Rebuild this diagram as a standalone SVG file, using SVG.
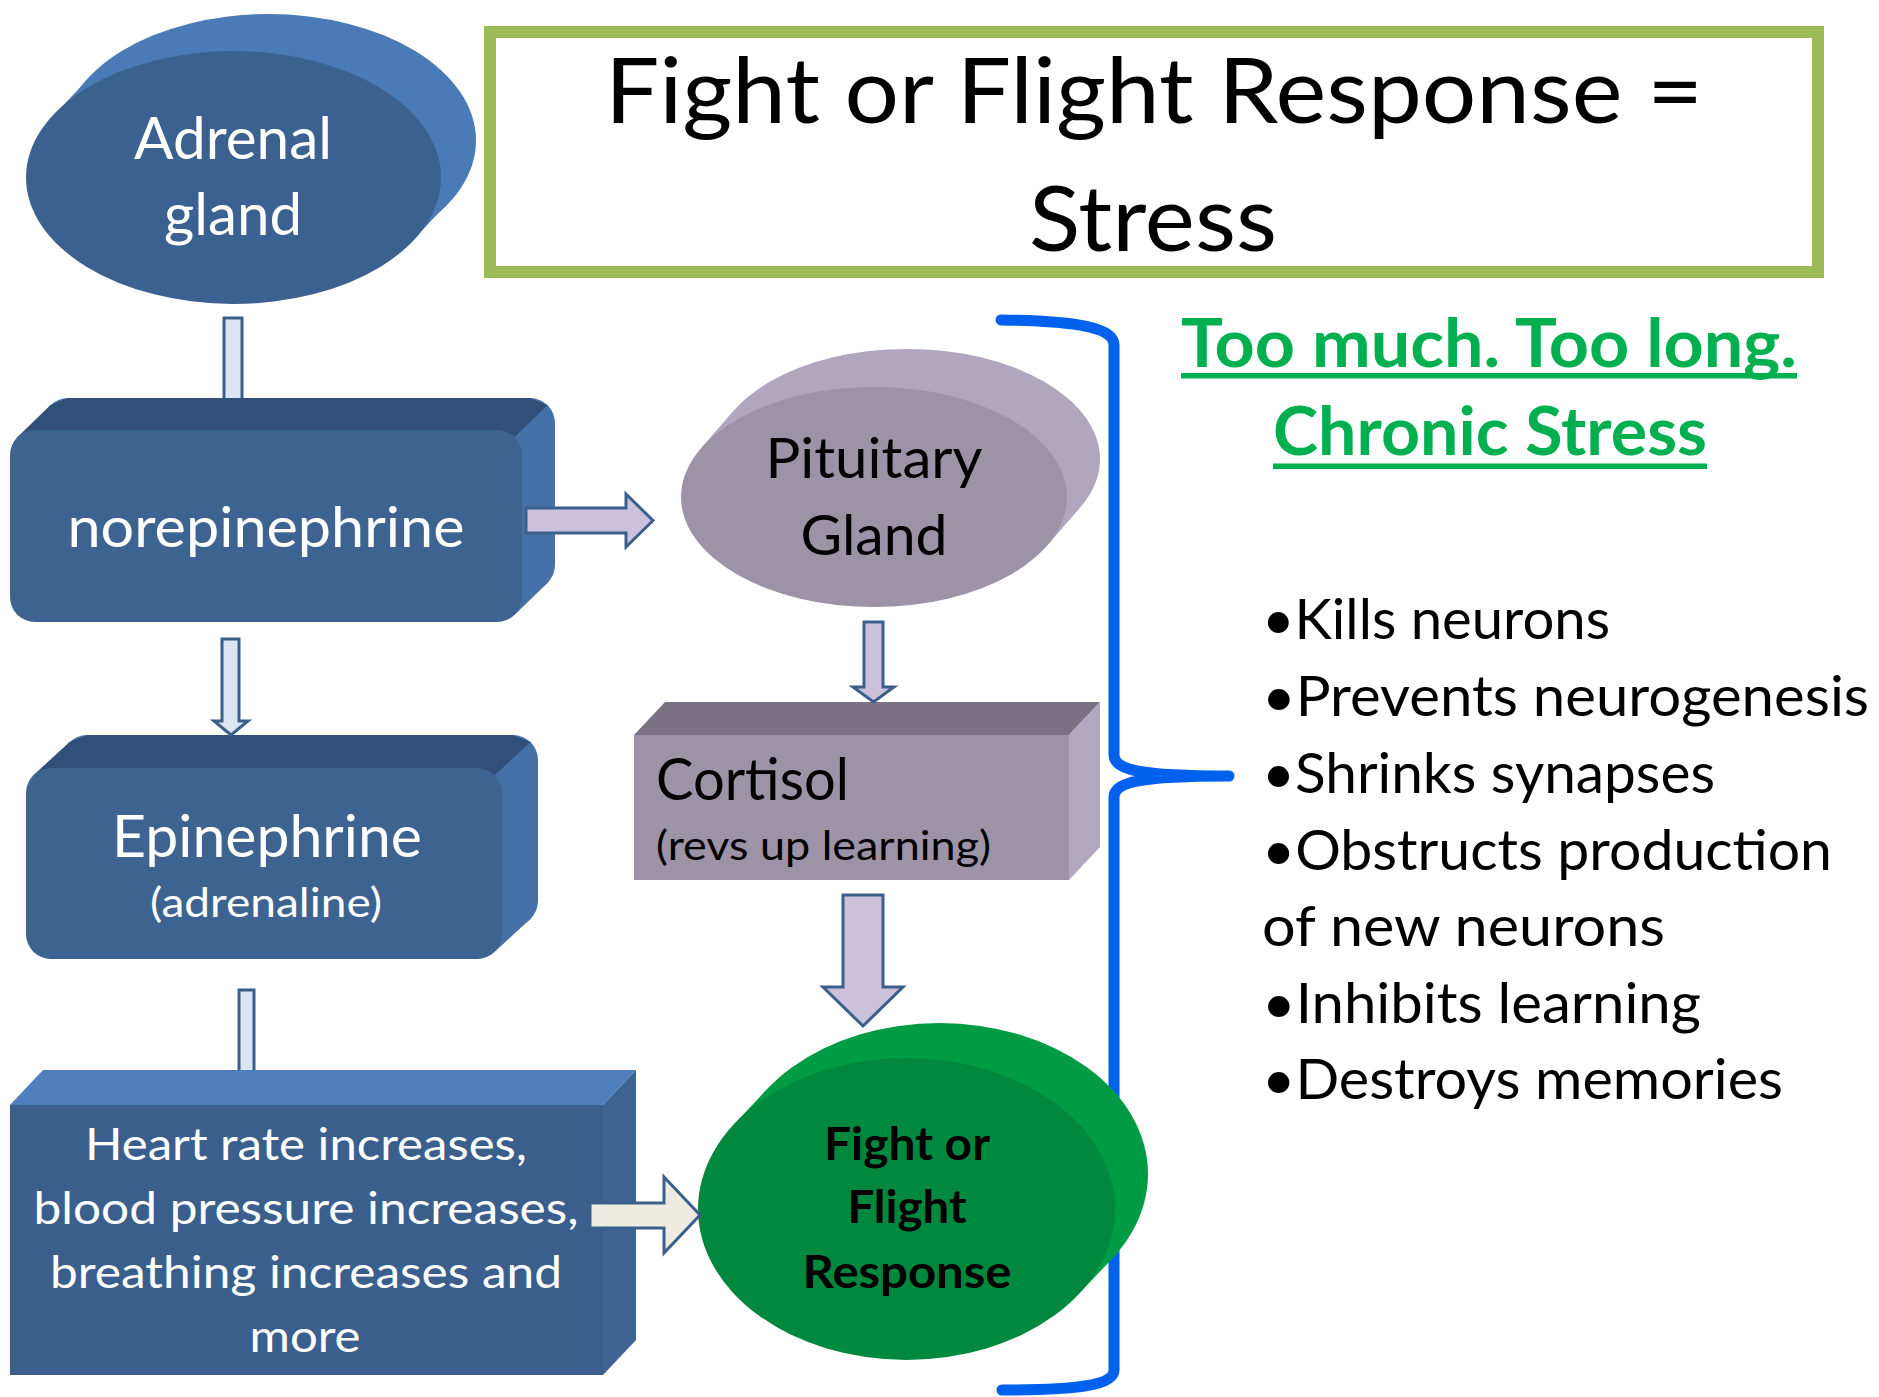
<svg xmlns="http://www.w3.org/2000/svg" width="1879" height="1397" viewBox="0 0 1879 1397">
<style>
text{font-family:Lato,"Open Sans","Liberation Sans",sans-serif}
.w{fill:#ffffff}
.k{fill:#000000}
.m{text-anchor:middle}
.b{font-weight:bold}
.g{fill:#00B050}
.bl-side{fill:#4A7BB6}
.bl-front{fill:#3B6190}
.bl-top{fill:#30507A}
.bl-right{fill:#4671A8}
.pu-side{fill:#B0A6BE}
.pu-front{fill:#9D93A7}
.arrB{fill:#DCE6F2;stroke:#3A5F8B;stroke-width:3}
.arrP{fill:#CCC1DA;stroke:#3A5F8B;stroke-width:3}
.arrC{fill:#EEECE1;stroke:#3A5F8B;stroke-width:3}
</style>
<rect x="0" y="0" width="1879" height="1397" fill="#ffffff"/>

<g id="title">
<rect x="490" y="32" width="1328" height="240" fill="#ffffff" stroke="#9BBB59" stroke-width="12"/>
<text class="k m" x="1154" y="123" font-size="92" textLength="1098" lengthAdjust="spacingAndGlyphs">Fight or Flight Response =</text>
<text class="k m" x="1153" y="251" font-size="92" textLength="248" lengthAdjust="spacingAndGlyphs">Stress</text>
</g>

<g id="brace">
<path d="M1001,320 C1080,321 1114,328 1114,345 L1114,755 C1114,770 1140,776 1229,776 C1140,776 1114,782 1114,797 L1114,1370 C1114,1385 1080,1390 1002,1390" fill="none" stroke="#0061EF" stroke-width="11" stroke-linecap="round" stroke-linejoin="round"/>
</g>

<g id="adrenal">
<ellipse class="bl-side" cx="268.5" cy="140.5" rx="207.5" ry="126.5"/>
<polygon class="bl-side" points="54.5,114.5 89.5,77.5 447.5,203.5 412.5,240.5"/>
<ellipse class="bl-front" cx="233.5" cy="177.5" rx="207.5" ry="126.5"/>
<text class="w m" x="233" y="159" font-size="58" textLength="198" lengthAdjust="spacingAndGlyphs">Adrenal</text>
<text class="w m" x="233" y="235" font-size="58" textLength="138" lengthAdjust="spacingAndGlyphs">gland</text>
</g>

<g id="norepinephrine">
<rect class="bl-right" x="43" y="398" width="512" height="192" rx="25"/>
<polygon class="bl-top" points="17.3,437.3 50.3,405.3 68,398 530,398 547.7,405.3 514.7,437.3"/>
<polygon class="bl-right" points="514.7,437.3 547.7,405.3 555,423 555,565 547.7,582.7 514.7,614.7"/>
<rect x="10" y="430" width="512" height="192" rx="25" fill="#3D6391"/>
<text class="w m" x="266" y="547" font-size="57" textLength="397" lengthAdjust="spacingAndGlyphs">norepinephrine</text>
</g>

<g id="epinephrine">
<rect class="bl-right" x="62" y="735" width="476" height="191" rx="25"/>
<polygon class="bl-top" points="33.3,775.3 69.3,742.3 87,735 513,735 530.7,742.3 494.7,775.3"/>
<polygon class="bl-right" points="494.7,775.3 530.7,742.3 538,760 538,901 530.7,918.7 494.7,951.7"/>
<rect x="26" y="768" width="476" height="191" rx="25" fill="#3D6391"/>
<text class="w m" x="267" y="857" font-size="58" textLength="310" lengthAdjust="spacingAndGlyphs">Epinephrine</text>
<text class="w m" x="266" y="917" font-size="40" textLength="232" lengthAdjust="spacingAndGlyphs">(adrenaline)</text>
</g>

<g id="heart-rate">
<polygon points="10,1105 43,1070 636,1070 603,1105" fill="#4F7FBA"/>
<polygon points="603,1105 636,1070 636,1340 603,1375" fill="#3E6494"/>
<rect x="10" y="1105" width="593" height="270" fill="#3B5F8C"/>
<text class="w m" x="306" y="1160" font-size="45" textLength="442" lengthAdjust="spacingAndGlyphs">Heart rate increases,</text>
<text class="w m" x="306" y="1224" font-size="45" textLength="545" lengthAdjust="spacingAndGlyphs">blood pressure increases,</text>
<text class="w m" x="306" y="1288" font-size="45" textLength="512" lengthAdjust="spacingAndGlyphs">breathing increases and</text>
<text class="w m" x="305" y="1352" font-size="45" textLength="111" lengthAdjust="spacingAndGlyphs">more</text>
</g>

<g id="pituitary">
<ellipse class="pu-side" cx="907" cy="459" rx="193" ry="110"/>
<polygon class="pu-side" points="701,448.3 734,410.3 1080,507.7 1047,545.7"/>
<ellipse class="pu-front" cx="874" cy="497" rx="193" ry="110"/>
<text class="k m" x="874" y="478" font-size="56" textLength="217" lengthAdjust="spacingAndGlyphs">Pituitary</text>
<text class="k m" x="874" y="555" font-size="56" textLength="147" lengthAdjust="spacingAndGlyphs">Gland</text>
</g>

<g id="cortisol">
<polygon points="634,735 665,702 1100,702 1069,735" fill="#7A7283"/>
<polygon points="1069,735 1100,702 1100,847 1069,880" fill="#B1A8BF"/>
<rect x="634" y="735" width="435" height="145" fill="#9D93A7"/>
<text class="k" x="656" y="800" font-size="58" textLength="193" lengthAdjust="spacingAndGlyphs">Cortisol</text>
<text class="k" x="656" y="860" font-size="40" textLength="335" lengthAdjust="spacingAndGlyphs">(revs up learning)</text>
</g>

<g id="fight-or-flight">
<ellipse cx="939.5" cy="1174" rx="208.5" ry="151" fill="#009B45"/>
<polygon points="734.3,1123.9 767.3,1088.9 1111.7,1259.1 1078.7,1294.1" fill="#009B45"/>
<ellipse cx="906.5" cy="1209" rx="208.5" ry="151" fill="#00883E"/>
<text class="k m b" x="907" y="1160" font-size="45" textLength="166" lengthAdjust="spacingAndGlyphs">Fight or</text>
<text class="k m b" x="907" y="1223" font-size="45" textLength="119" lengthAdjust="spacingAndGlyphs">Flight</text>
<text class="k m b" x="907" y="1288" font-size="45" textLength="209" lengthAdjust="spacingAndGlyphs">Response</text>
</g>

<g id="connectors">
<path class="arrB" d="M224,398 V318 H242 V398"/>
<polygon class="arrB" points="222,639 239,639 239,721 248,721 231,735 214,721 222,721"/>
<path class="arrB" d="M239,1070 V990 H254 V1070"/>
<polygon class="arrP" points="526,508 626,508 626,494 653,520.5 626,547 626,533 526,533"/>
<polygon class="arrP" points="864,622 883,622 883,687 894,687 873.5,702 853,687 864,687"/>
<polygon class="arrP" points="843,895 883,895 883,987 903,987 863,1026 823,987 843,987"/>
<polygon class="arrC" points="590,1203 664,1203 664,1177 700,1215 664,1253 664,1228 590,1228"/>
</g>

<g id="chronic-stress">
<text class="g m b" x="1489" y="367" font-size="67" textLength="616" lengthAdjust="spacingAndGlyphs">Too much. Too long.</text>
<rect class="g" x="1181" y="373" width="616" height="5.5"/>
<text class="g m b" x="1490" y="455" font-size="67" textLength="434" lengthAdjust="spacingAndGlyphs">Chronic Stress</text>
<rect class="g" x="1273" y="463.5" width="434" height="5.5"/>
</g>

<g id="effects">
<text class="k" x="1262" y="639" font-size="56" textLength="348" lengthAdjust="spacingAndGlyphs">•Kills neurons</text>
<text class="k" x="1262" y="716" font-size="56" textLength="607" lengthAdjust="spacingAndGlyphs">•Prevents neurogenesis</text>
<text class="k" x="1262" y="793" font-size="56" textLength="453" lengthAdjust="spacingAndGlyphs">•Shrinks synapses</text>
<text class="k" x="1262" y="870" font-size="56" textLength="570" lengthAdjust="spacingAndGlyphs">•Obstructs production</text>
<text class="k" x="1262" y="946" font-size="56" textLength="403" lengthAdjust="spacingAndGlyphs">of new neurons</text>
<text class="k" x="1262" y="1023" font-size="56" textLength="439" lengthAdjust="spacingAndGlyphs">•Inhibits learning</text>
<text class="k" x="1262" y="1099" font-size="56" textLength="521" lengthAdjust="spacingAndGlyphs">•Destroys memories</text>
</g>
</svg>
